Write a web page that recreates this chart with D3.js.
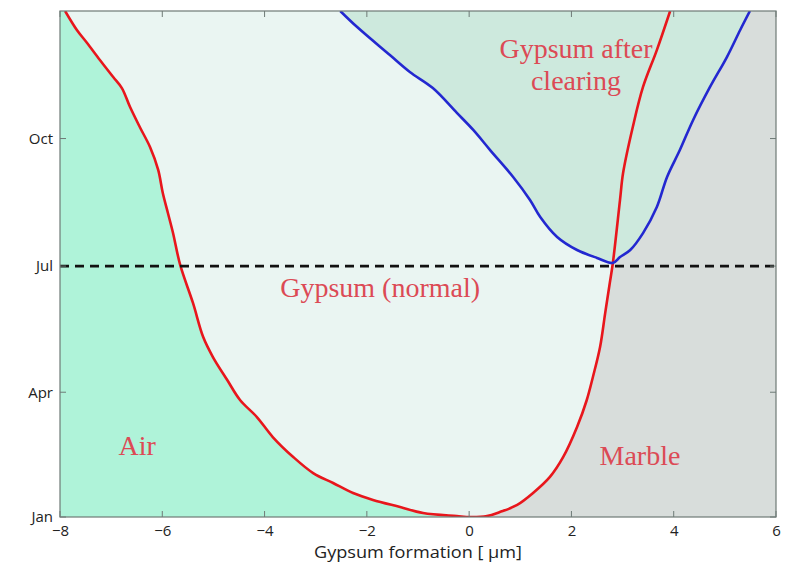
<!DOCTYPE html>
<html>
<head>
<meta charset="utf-8">
<script src="https://cdn.jsdelivr.net/npm/d3@7"></script>
<style>
  body { margin: 0; background: #ffffff; }
  svg { display: block; }
</style>
</head>
<body>
<div id="chart"></div>
<script>
// ---- Data (x in µm, y as day of year) ----
const redX   = [-7.90, -7.67, -7.47, -7.22, -6.96, -6.79, -6.63, -6.44, -6.24, -6.08, -5.99, -5.89, -5.79, -5.65, -5.40, -5.20, -5.01, -4.73, -4.48, -4.15, -3.84, -3.44, -3.05, -2.66, -2.27, -1.88, -1.35, -0.90, -0.24, 0.02, 0.35, 0.60, 0.94, 1.25, 1.58, 1.84, 2.11, 2.30, 2.42, 2.56, 2.66, 2.75, 2.81, 2.95, 3.01, 3.20, 3.40, 3.67, 3.93];
const redDay = [366, 352.3, 342.9, 330.7, 318.4, 310.4, 296.7, 282.3, 267.9, 251.4, 234.7, 220.3, 205.9, 182.8, 155.4, 130.8, 116.4, 99.8, 85.4, 73.1, 58.7, 44.3, 32.7, 25.5, 18.3, 13.3, 8.2, 3.9, 1.7, 1, 1.7, 4.6, 9.7, 18.3, 29.9, 44.3, 65.9, 85.4, 102, 123.6, 148.1, 169.8, 184.2, 229.7, 249.1, 282.3, 311.2, 337.8, 366];
const blueX   = [-2.52, -2.19, -1.55, -1.16, -0.71, -0.24, 0.08, 0.41, 0.86, 1.19, 1.39, 1.72, 2.11, 2.50, 2.81, 2.95, 3.15, 3.40, 3.67, 3.87, 4.12, 4.38, 4.71, 5.04, 5.30, 5.49];
const blueDay = [366, 354.4, 334.2, 322, 310.4, 292.5, 280.2, 265.7, 246.3, 229.7, 217.4, 203, 193.6, 187.9, 184.3, 188.5, 193.6, 205.8, 224.6, 246.3, 265.7, 287.4, 311.2, 332.8, 352.3, 366];
const xTicks = [-8, -6, -4, -2, 0, 2, 4, 6];
const yTickDays = [1, 91, 182, 274];
const yTickLabels = ["Jan", "Apr", "Jul", "Oct"];
const markerDay = 182;
const regionLabels = [
  {text: "Gypsum after", x: 2.09, day: 332},
  {text: "clearing", x: 2.09, day: 309},
  {text: "Gypsum (normal)", x: -1.74, day: 160},
  {text: "Air", x: -6.49, day: 45.7},
  {text: "Marble", x: 3.34, day: 38.5}
];
const xLabel = "Gypsum formation [ \u00b5m]";

// ---- Layout ----
const W = 791, H = 562;
const m = {left: 60, right: 15, top: 11, bottom: 45};
const iw = W - m.left - m.right, ih = H - m.top - m.bottom;

const x = d3.scaleLinear().domain([-8, 6]).range([0, iw]);
const y = d3.scaleLinear().domain([1, 366]).range([ih, 0]);

const svg = d3.select("#chart").append("svg").attr("width", W).attr("height", H);
svg.append("defs").append("clipPath").attr("id", "clip")
  .append("rect").attr("width", iw).attr("height", ih);
const g = svg.append("g").attr("transform", `translate(${m.left},${m.top})`);
const plot = g.append("g").attr("clip-path", "url(#clip)");

const red = redX.map((v, i) => [v, redDay[i]]);
const blue = blueX.map((v, i) => [v, blueDay[i]]);
let minIdx = 0;
red.forEach((p, i) => { if (p[1] < red[minIdx][1]) minIdx = i; });

const poly = d3.line().x(d => x(d[0])).y(d => y(d[1]));

// background (normal gypsum)
plot.append("rect").attr("width", iw).attr("height", ih).attr("fill", "#eaf5f2");
// Air
const airPts = [[-8, 366]].concat(red.slice(0, minIdx + 1), [[-8, 1]]);
plot.append("path").attr("d", poly(airPts) + "Z").attr("fill", "#aff3d9");
// Marble
const marblePts = [[red[minIdx][0], 1]].concat(red.slice(minIdx + 1), [[6, 366], [6, 1]]);
plot.append("path").attr("d", poly(marblePts) + "Z").attr("fill", "#d8dddb");
// Clearing
plot.append("path").attr("d", poly(blue) + "Z").attr("fill", "#cde9dd");

// lines
const curve = d3.line().x(d => x(d[0])).y(d => y(d[1])).curve(d3.curveCatmullRom.alpha(0.5));
plot.append("path").attr("d", curve(red)).attr("fill", "none")
  .attr("stroke", "#e8161c").attr("stroke-width", 2.6).attr("stroke-linejoin", "round");
plot.append("path").attr("d", curve(blue)).attr("fill", "none")
  .attr("stroke", "#2328d0").attr("stroke-width", 2.6).attr("stroke-linejoin", "round");

// dashed Jul line
plot.append("line").attr("x1", 0).attr("x2", iw)
  .attr("y1", y(markerDay)).attr("y2", y(markerDay))
  .attr("stroke", "#111").attr("stroke-width", 2.6).attr("stroke-dasharray", "9,6");

// region labels
g.selectAll("text.region").data(regionLabels).enter().append("text")
  .attr("class", "region")
  .attr("x", d => x(d.x)).attr("y", d => y(d.day))
  .attr("text-anchor", "middle")
  .attr("font-family", "'Liberation Serif', 'Times New Roman', serif")
  .attr("font-size", 28)
  .attr("fill", "#dc4a55")
  .text(d => d.text);

// axes box
const axisColor = "#6e7a76";
g.append("rect").attr("width", iw).attr("height", ih).attr("fill", "none")
  .attr("stroke", axisColor).attr("stroke-width", 1.2);

// ticks (inward, all sides)
xTicks.forEach(t => {
  g.append("line").attr("x1", x(t)).attr("x2", x(t)).attr("y1", ih).attr("y2", ih - 6).attr("stroke", axisColor);
  g.append("line").attr("x1", x(t)).attr("x2", x(t)).attr("y1", 0).attr("y2", 6).attr("stroke", axisColor);
});
yTickDays.forEach(t => {
  g.append("line").attr("x1", 0).attr("x2", 6).attr("y1", y(t)).attr("y2", y(t)).attr("stroke", axisColor);
  g.append("line").attr("x1", iw).attr("x2", iw - 6).attr("y1", y(t)).attr("y2", y(t)).attr("stroke", axisColor);
});

const tickFont = "'Open Sans', 'DejaVu Sans', sans-serif";
const xAxis = d3.axisBottom(x).tickValues(xTicks).tickSize(0).tickPadding(8)
  .tickFormat(d => d < 0 ? "\u2212" + Math.abs(d) : String(d));
const gx = g.append("g").attr("transform", `translate(0,${ih})`).call(xAxis);
gx.select(".domain").remove();
gx.selectAll("text").attr("font-family", tickFont).attr("font-size", 15).attr("fill", "#222");

const yAxis = d3.axisLeft(y).tickValues(yTickDays).tickSize(0).tickPadding(7)
  .tickFormat((d, i) => yTickLabels[i]);
const gy = g.append("g").call(yAxis);
gy.select(".domain").remove();
gy.selectAll("text").attr("font-family", tickFont).attr("font-size", 15).attr("fill", "#222");

g.append("text").attr("x", 358).attr("y", ih + 41)
  .attr("text-anchor", "middle")
  .attr("font-family", tickFont).attr("font-size", 17).attr("fill", "#222")
  .attr("textLength", 208).attr("lengthAdjust", "spacingAndGlyphs")
  .text(xLabel);
</script>
</body>
</html>
